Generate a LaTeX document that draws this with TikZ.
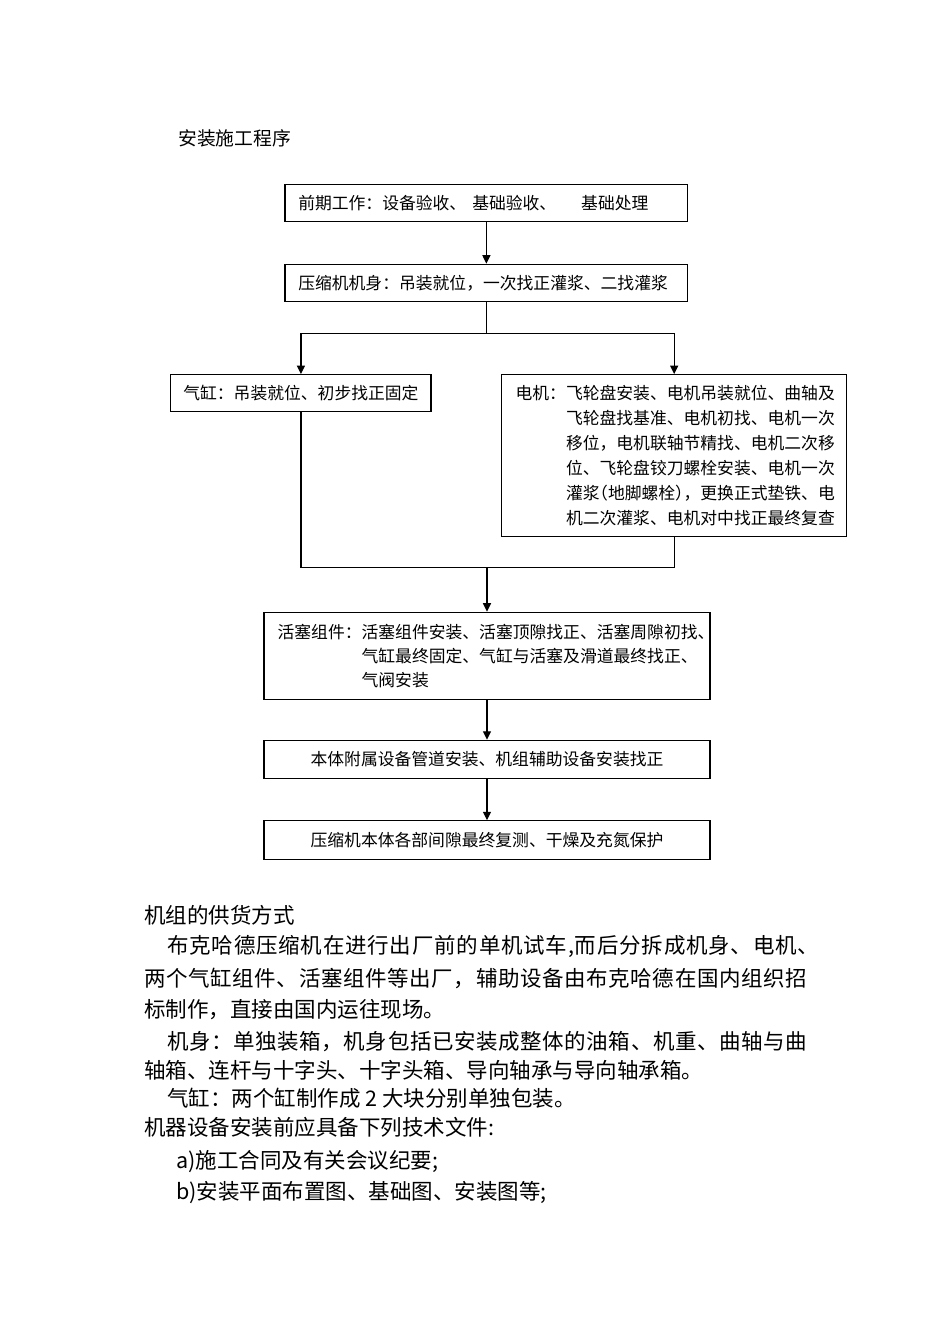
\documentclass[tikz,border=0pt]{standalone}
\usepackage{fontspec}
\setmainfont{Noto Sans CJK SC}
\usetikzlibrary{arrows.meta}
\makeatletter
\def\spr@ad#1{\ifx#1\relax\else#1\hfil\expandafter\spr@ad\fi}
\newcommand{\jline}[2]{\hbox to #1{\spr@ad#2\relax\unskip}}
\makeatother
\newcommand{\hp}[1]{\makebox[8.4pt][r]{#1}}
\newcommand{\hq}[1]{\makebox[8.4pt][l]{#1}}
\begin{document}
\begin{tikzpicture}[x=1pt,y=-1pt,
  box/.style={draw=black, line width=1.2pt, inner sep=0pt, font=\fontsize{16.8}{25}\selectfont},
  btxt/.style={inner sep=0pt, anchor=west, align=left},
  ln/.style={draw=black, line width=1.2pt},
  arr/.style={ln, -{Triangle[length=8.5pt,width=8pt]}},
  titlef/.style={inner sep=0pt, anchor=west, font=\fontsize{18.8}{22}\selectfont},
  bodyf/.style={inner sep=0pt, anchor=west, font=\fontsize{21.5}{30}\selectfont}]
\fill[white] (0,0) rectangle (950,1344);
\useasboundingbox (0,0) rectangle (950,1344);

% title
\node[titlef] (title) at (178,138.5) {安装施工程序};

% boxes
\node[box, minimum width=402.7pt, minimum height=37.4pt] (b1) at (486.4,203) {};
\node[btxt, font=\fontsize{16.8}{25}\selectfont] (t1) at ([xshift=13.6pt]b1.west)
  {前期工作：设备验收、\hspace{6pt}基础验收、\hspace{25pt}基础处理};

\node[box, minimum width=402.7pt, minimum height=37.4pt] (b2) at (486.4,283) {};
\node[btxt, font=\fontsize{16.8}{25}\selectfont] (t2) at ([xshift=13.6pt]b2.west)
  {压缩机机身：吊装就位，一次找正灌浆、二找灌浆};

\node[box, minimum width=260.3pt, minimum height=37pt] (b3) at (300.9,393.2)
  {气缸：吊装就位、初步找正固定};

\node[box, minimum width=345pt, minimum height=162pt] (b4) at (674.2,455.7) {};
\node[btxt, font=\fontsize{16.8}{25}\selectfont] (t4) at ([xshift=14.3pt,yshift=-1.5pt]b4.west)
  {\begin{tabular}{@{}l@{}l@{}}
  电机：&飞轮盘安装、电机吊装就位、曲轴及\\
  &飞轮盘找基准、电机初找、电机一次\\
  &移位，电机联轴节精找、电机二次移\\
  &位、飞轮盘铰刀螺栓安装、电机一次\\
  &灌浆\hp{（}地脚螺栓\hq{）}，更换正式垫铁、电\\
  &机二次灌浆、电机对中找正最终复查
  \end{tabular}};

\node[box, minimum width=446pt, minimum height=87pt] (b5) at (487,655.8) {};
\node[btxt, font=\fontsize{16.8}{24.2}\selectfont] (t5) at ([xshift=14pt,yshift=-1.7pt]b5.west)
  {\begin{tabular}{@{}l@{}l@{}}
  活塞组件：&活塞组件安装、活塞顶隙找正、活塞周隙初找、\\
  &气缸最终固定、气缸与活塞及滑道最终找正、\\
  &气阀安装
  \end{tabular}};

\node[box, minimum width=446pt, minimum height=38.5pt] (b6) at (487,759.6)
  {本体附属设备管道安装、机组辅助设备安装找正};

\node[box, minimum width=446pt, minimum height=38.5pt] (b7) at (487,840.1)
  {压缩机本体各部间隙最终复测、干燥及充氮保护};

% connectors
\coordinate (j1) at (486.4,333.3);
\coordinate (j2) at (487,567.3);
\draw[arr] (b1.south) -- (b2.north);
\draw[ln] (b2.south) -- (j1);
\draw[arr] (j1) -| (b3.north);
\draw[arr] (j1) -| (b4.north);
\draw[ln] (b3.south) |- (j2);
\draw[ln] (b4.south) |- (j2);
\draw[arr] (j2) -- (b5.north);
\draw[arr] (b5.south) -- (b6.north);
\draw[arr] (b6.south) -- (b7.north);

% body text
\node[bodyf] (p0) at (144,915.7) {机组的供货方式};
\node[bodyf] (p1) at (167,946) {\jline{652pt}{布克哈德压缩机在进行出厂前的单机试车,而后分拆成机身、电机、}};
\node[bodyf] (p2) at (144,978) {\jline{663pt}{两个气缸组件、活塞组件等出厂，辅助设备由布克哈德在国内组织招}};
\node[bodyf] (p3) at (144,1010) {标制作，直接由国内运往现场。};
\node[bodyf] (p4) at (167,1041.7) {\jline{640pt}{机身：单独装箱，机身包括已安装成整体的油箱、机重、曲轴与曲}};
\node[bodyf] (p5) at (144,1070) {轴箱、连杆与十字头、十字头箱、导向轴承与导向轴承箱。};
\node[bodyf] (p6) at (167,1098) {气缸：两个缸制作成 2 大块分别单独包装。};
\node[bodyf] (p7) at (144,1127) {机器设备安装前应具备下列技术文件:};
\node[bodyf] (p8) at (176,1162) {a)施工合同及有关会议纪要;};
\node[bodyf] (p9) at (176,1193) {b)安装平面布置图、基础图、安装图等;};
\end{tikzpicture}
\end{document}
